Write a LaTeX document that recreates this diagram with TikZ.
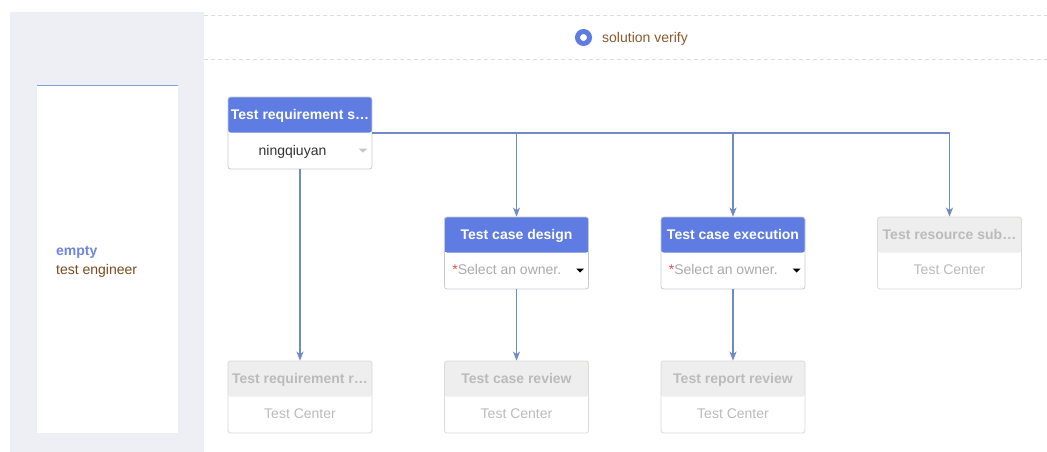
\documentclass[tikz,border=0pt]{standalone}
\usepackage{fontspec}
\setmainfont{Liberation Sans}
\usetikzlibrary{arrows.meta}
\definecolor{hdrblue}{HTML}{5E7CE1}
\definecolor{panel}{HTML}{EEEFF4}
\definecolor{conncol}{HTML}{6F8AC6}
\definecolor{dashcol}{HTML}{DDDDDD}
\definecolor{brownA}{HTML}{7B4A1F}
\definecolor{brownB}{HTML}{8B5A2B}
\definecolor{emptyblue}{HTML}{6E86DB}
\definecolor{cardline}{HTML}{C6CAD6}
\definecolor{idleline}{HTML}{DEDAD4}
\definecolor{idlehdr}{HTML}{EEEEEE}
\definecolor{idletext}{HTML}{BBBBBB}
\definecolor{hint}{HTML}{AAAAAA}
\definecolor{starred}{HTML}{F04848}
\definecolor{ddgray}{HTML}{C4C4C4}
\definecolor{topline}{HTML}{7F9FE0}
\tikzset{
  cardbase/.style={rectangle, minimum width=144pt, minimum height=72pt, inner sep=0pt,
    rounded corners=2.5pt, fill=white, line width=0.8pt},
  activecard/.style={cardbase, draw=cardline,
    path picture={\fill[hdrblue] (path picture bounding box.north west) rectangle ([yshift=0.5pt]path picture bounding box.east);}},
  idlecard/.style={cardbase, draw=idleline,
    path picture={\fill[idlehdr] (path picture bounding box.north west) rectangle ([yshift=0.5pt]path picture bounding box.east);}},
  hdrtext/.style={font=\fontsize{14}{16}\selectfont\bfseries, text=white, inner sep=0pt, anchor=base},
  idlehdrtext/.style={font=\fontsize{14}{16}\selectfont\bfseries, text=idletext, inner sep=0pt, anchor=base},
  bodytext/.style={font=\fontsize{14}{16}\selectfont, inner sep=0pt, anchor=base},
  conn/.style={draw=conncol, line width=1.2pt, -{Stealth[length=9pt,width=7pt,inset=2.5pt]}},
  dashline/.style={draw=dashcol, line width=1pt, dash pattern=on 4pt off 3pt}
}
\begin{document}
\begin{tikzpicture}[x=1pt,y=-1pt]
\useasboundingbox (0,0) rectangle (1047,452);
\fill[white] (0,0) rectangle (1047,452);
% left panel
\fill[panel] (10,12) rectangle (204,452);
\fill[white] (37,85) rectangle (178,433);
\draw[topline, line width=1pt] (37,85.5) -- (178,85.5);
\node[anchor=base west, inner sep=0pt, font=\fontsize{14}{16}\selectfont\bfseries, text=emptyblue] (empty) at (56,255) {empty};
\node[anchor=base west, inner sep=0pt, font=\fontsize{14}{16}\selectfont, text=brownA] (role) at (56,274) {test engineer};
% stage header
\draw[dashline] (204,15.5) -- (1047,15.5);
\draw[dashline] (204,59.5) -- (1047,59.5);
\node[circle, draw=hdrblue, line width=5pt, minimum size=12pt, inner sep=0pt] (dot) at (583.5,37.5) {};
\node[anchor=base west, inner sep=0pt, font=\fontsize{14}{16}\selectfont, text=brownB] (stage) at (602,43) {solution verify};
% cards
\node[activecard] (c1) at (300,133) {};
\node[activecard] (c2) at (516.5,253) {};
\node[activecard] (c3) at (733,253) {};
\node[idlecard] (c4) at (949.5,253) {};
\node[idlecard] (c5) at (300,397) {};
\node[idlecard] (c6) at (516.5,397) {};
\node[idlecard] (c7) at (733,397) {};
% card texts
\node[hdrtext] (t1) at ([yshift=-23pt]c1.north) {Test requirement s…};
\node[bodytext, text=black!80] (b1) at ([xshift=-7.5pt,yshift=-58.5pt]c1.north) {ningqiuyan};
\fill[ddgray] (358.5,148.5) -- (367.5,148.5) -- (363,152.5) -- cycle;
\node[hdrtext] (t2) at ([yshift=-23pt]c2.north) {Test case design};
\node[bodytext, anchor=base west, text=hint] (b2) at ([xshift=8pt,yshift=-58pt]c2.north west) {\textcolor{starred}{*}Select an owner.};
\fill[black] (576,268.5) -- (584,268.5) -- (580,272.5) -- cycle;
\node[hdrtext] (t3) at ([yshift=-23pt]c3.north) {Test case execution};
\node[bodytext, anchor=base west, text=hint] (b3) at ([xshift=8pt,yshift=-58pt]c3.north west) {\textcolor{starred}{*}Select an owner.};
\fill[black] (792.5,268.5) -- (800.5,268.5) -- (796.5,272.5) -- cycle;
\node[idlehdrtext] (t4) at ([yshift=-23pt]c4.north) {Test resource sub…};
\node[bodytext, text=idletext] (b4) at ([yshift=-58pt]c4.north) {Test Center};
\node[idlehdrtext] (t5) at ([yshift=-23pt]c5.north) {Test requirement r…};
\node[bodytext, text=idletext] (b5) at ([yshift=-58pt]c5.north) {Test Center};
\node[idlehdrtext] (t6) at ([yshift=-23pt]c6.north) {Test case review};
\node[bodytext, text=idletext] (b6) at ([yshift=-58pt]c6.north) {Test Center};
\node[idlehdrtext] (t7) at ([yshift=-23pt]c7.north) {Test report review};
\node[bodytext, text=idletext] (b7) at ([yshift=-58pt]c7.north) {Test Center};
% connectors
\draw[conn] (c1.east) -| (c4.north);
\draw[conn] (c1.east -| c2.north) -- (c2.north);
\draw[conn] (c1.east -| c3.north) -- (c3.north);
\draw[conn] (c1.south) -- (c5.north);
\draw[conn] (c2.south) -- (c6.north);
\draw[conn] (c3.south) -- (c7.north);
\end{tikzpicture}
\end{document}
